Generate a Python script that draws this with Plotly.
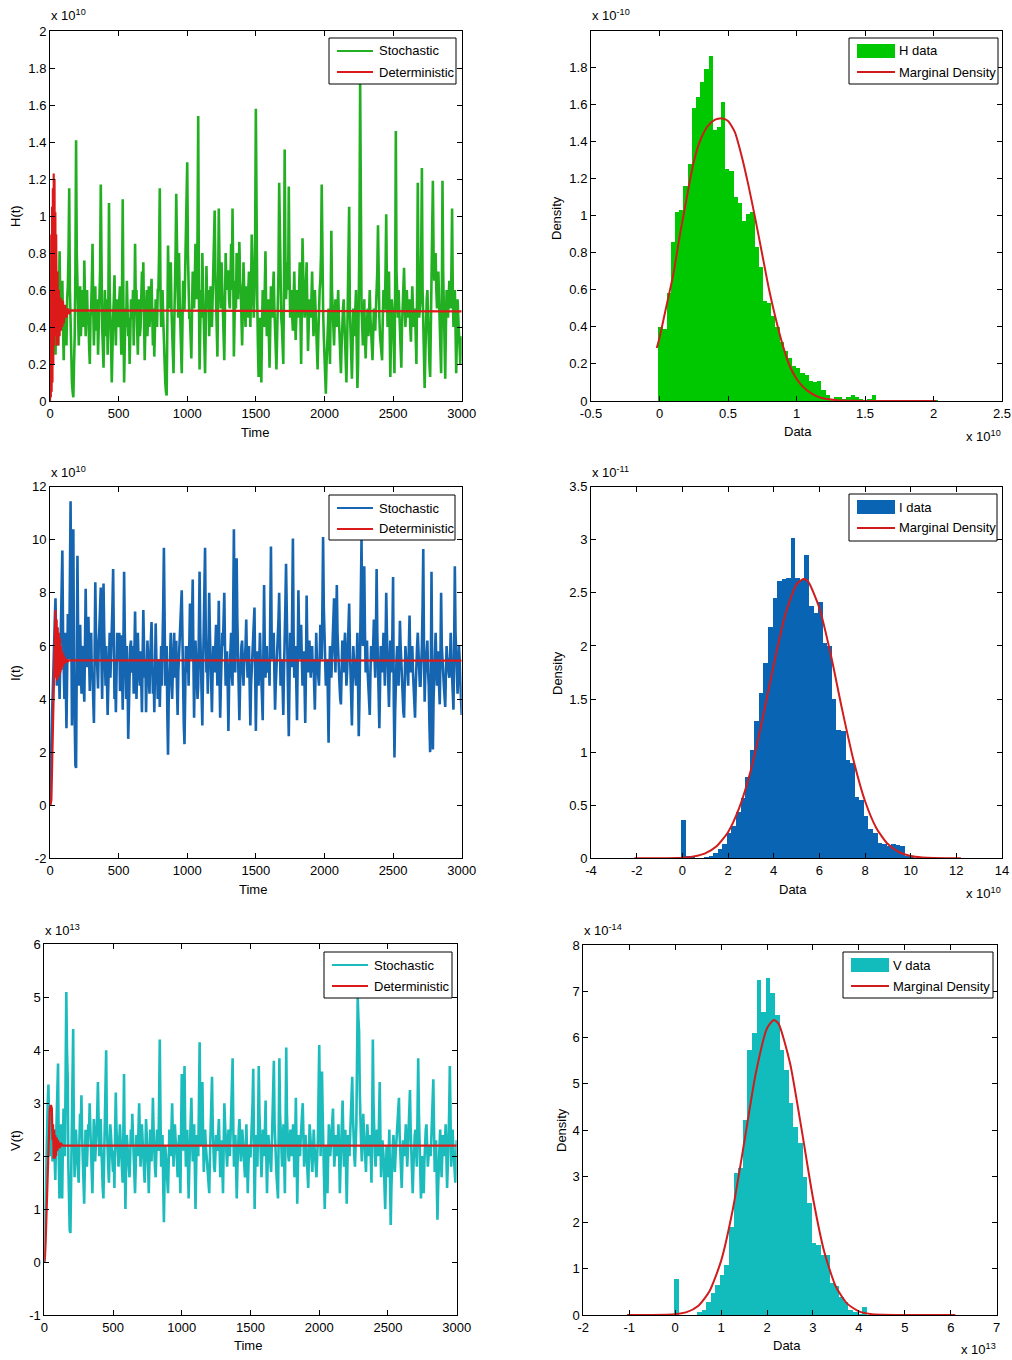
import plotly.graph_objects as go

W, HT = 1012, 1360
FONT = "Liberation Sans, Arial, Helvetica, sans-serif"
FS = 13

# ---------------- data ----------------
time = list(range(0, 3001, 5))

H_stoch = [
    0.02, 0.3, 0.4, 0.8, 1.02, 0.7, 0.55, 0.35, 0.25, 0.45, 0.6, 0.4, 0.3, 0.55, 0.81, 0.5, 0.42, 0.58, 0.65, 0.4,
    0.22, 0.45, 0.5, 0.35, 0.3, 0.55, 0.62, 0.8, 1.15, 0.6, 0.4, 0.25, 0.1, 0.05, 0.02, 0.2, 0.35, 0.7, 1.41, 0.8,
    0.55, 0.4, 0.3, 0.5, 0.62, 0.35, 0.45, 0.6, 0.58, 0.4, 0.76, 0.5, 0.35, 0.48, 0.6, 0.42, 0.48, 0.3, 0.2, 0.45,
    0.5, 0.65, 0.85, 0.5, 0.3, 0.45, 0.62, 0.38, 0.45, 0.55, 0.25, 0.4, 0.55, 0.7, 1.17, 0.6, 0.4, 0.3, 0.18, 0.4,
    0.6, 0.45, 0.35, 0.55, 0.25, 0.5, 1.07, 0.6, 0.5, 0.3, 0.1, 0.35, 0.45, 0.55, 0.68, 0.45, 0.3, 0.5, 0.55, 0.42,
    0.4, 0.55, 0.62, 0.4, 0.25, 0.6, 1.09, 0.5, 0.1, 0.3, 0.5, 0.4, 0.65, 0.5, 0.35, 0.45, 0.2, 0.35, 0.55, 0.45,
    0.45, 0.6, 0.3, 0.5, 0.85, 0.55, 0.6, 0.4, 0.25, 0.45, 0.55, 0.35, 0.4, 0.55, 0.7, 0.5, 0.75, 0.45, 0.22, 0.4,
    0.5, 0.6, 0.35, 0.45, 0.62, 0.4, 0.45, 0.55, 0.66, 0.45, 0.3, 0.5, 0.24, 0.4, 0.55, 0.45, 0.4, 0.6, 0.6, 0.8,
    1.15, 0.6, 0.4, 0.5, 0.6, 0.45, 0.3, 0.2, 0.1, 0.05, 0.03, 0.4, 0.84, 0.6, 0.5, 0.65, 0.75, 0.5, 0.35, 0.25,
    0.15, 0.4, 0.55, 0.8, 1.12, 0.7, 0.6, 0.45, 0.8, 0.55, 0.4, 0.3, 0.15, 0.4, 0.65, 0.5, 0.5, 0.7, 0.85, 1.0,
    1.29, 0.8, 0.6, 0.45, 0.45, 0.3, 0.23, 0.5, 0.7, 0.55, 0.5, 0.65, 0.85, 0.6, 0.55, 0.9, 1.54, 0.6, 0.17, 0.4,
    0.6, 0.45, 0.8, 0.6, 0.45, 0.3, 0.15, 0.4, 0.73, 0.55, 0.5, 0.6, 0.35, 0.5, 0.62, 0.45, 0.4, 0.55, 0.7, 0.8,
    1.03, 0.7, 0.55, 0.4, 0.24, 0.6, 1.04, 0.75, 0.6, 0.5, 0.75, 0.6, 0.5, 0.35, 0.22, 0.5, 0.8, 0.65, 0.6, 0.7,
    0.7, 0.55, 0.5, 0.65, 0.85, 0.6, 1.04, 0.7, 0.24, 0.45, 0.65, 0.5, 0.8, 0.6, 0.55, 0.7, 0.86, 0.65, 0.6, 0.45,
    0.3, 0.5, 0.75, 0.6, 0.5, 0.4, 0.62, 0.55, 0.45, 0.6, 0.7, 0.55, 0.4, 0.6, 0.9, 0.7, 0.55, 0.45, 0.6, 0.9,
    1.58, 0.8, 0.55, 0.3, 0.13, 0.35, 0.45, 0.25, 0.1, 0.4, 0.6, 0.45, 0.4, 0.6, 0.81, 0.5, 0.35, 0.45, 0.55, 0.35,
    0.18, 0.4, 0.62, 0.5, 0.45, 0.6, 0.7, 0.5, 0.35, 0.25, 0.17, 0.35, 0.5, 0.7, 1.18, 0.8, 0.6, 0.45, 0.4, 0.3,
    0.2, 0.6, 1.36, 0.8, 0.55, 0.65, 0.75, 0.6, 1.16, 0.7, 0.45, 0.55, 0.6, 0.45, 0.38, 0.55, 0.7, 0.5, 0.33, 0.45,
    0.6, 0.5, 0.45, 0.6, 0.75, 0.45, 0.2, 0.5, 0.88, 0.7, 0.6, 0.45, 0.5, 0.65, 0.75, 0.5, 0.27, 0.4, 0.55, 0.5,
    0.45, 0.55, 0.7, 0.5, 0.35, 0.45, 0.6, 0.5, 0.4, 0.3, 0.17, 0.35, 0.55, 0.6, 0.65, 0.8, 1.17, 0.7, 0.5, 0.35,
    0.25, 0.1, 0.04, 0.2, 0.35, 0.45, 0.5, 0.35, 0.2, 0.5, 0.92, 0.6, 0.45, 0.35, 0.3, 0.45, 0.55, 0.5, 0.4, 0.5,
    0.6, 0.45, 0.3, 0.2, 0.15, 0.3, 0.45, 0.5, 0.55, 0.4, 0.25, 0.15, 0.1, 0.3, 0.5, 0.7, 1.05, 0.5, 0.3, 0.2,
    0.12, 0.3, 0.5, 0.4, 0.35, 0.5, 0.6, 0.3, 0.07, 0.2, 0.45, 0.9, 1.72, 0.8, 0.5, 0.4, 0.3, 0.4, 0.55, 0.35,
    0.23, 0.35, 0.45, 0.5, 0.35, 0.45, 0.6, 0.45, 0.4, 0.3, 0.22, 0.4, 0.5, 0.45, 0.38, 0.5, 0.6, 0.7, 0.95, 0.6,
    0.45, 0.35, 0.3, 0.25, 0.22, 0.45, 0.6, 0.5, 0.5, 0.7, 1.01, 0.6, 0.4, 0.55, 0.7, 0.4, 0.13, 0.35, 0.55, 0.5,
    0.45, 0.3, 0.15, 0.6, 1.46, 0.7, 0.5, 0.45, 0.6, 0.5, 0.35, 0.25, 0.18, 0.4, 0.55, 0.6, 0.72, 0.55, 0.4, 0.5,
    0.6, 0.5, 0.45, 0.5, 0.55, 0.4, 0.32, 0.5, 0.62, 0.5, 0.4, 0.45, 0.5, 0.35, 0.2, 0.6, 1.18, 0.7, 0.45, 0.5,
    0.55, 0.8, 1.26, 0.6, 0.35, 0.15, 0.07, 0.25, 0.45, 0.55, 0.6, 0.4, 0.3, 0.2, 0.13, 0.45, 0.75, 0.9, 1.19, 0.8,
    0.65, 0.75, 0.8, 0.6, 0.5, 0.6, 0.7, 0.55, 0.45, 0.3, 0.15, 0.5, 1.19, 0.7, 0.55, 0.3, 0.12, 0.4, 0.6, 0.5,
    0.45, 0.55, 0.65, 0.55, 0.5, 0.7, 1.04, 0.6, 0.4, 0.5, 0.6, 0.4, 0.15, 0.35, 0.55, 0.45, 0.35, 0.3, 0.2, 0.3,
    0.35,
]

I_stoch = [
    0.0, 1.5, 2.5, 3.5, 4.2, 5.5, 6.0, 7.0, 7.8, 6.0, 4.5, 5.5, 6.3, 5.0, 4.0, 5.5, 6.8, 8.0, 9.6, 6.5,
    5.0, 4.0, 6.5, 4.5, 2.9, 5.0, 7.2, 6.0, 5.5, 8.5, 11.45, 7.0, 3.0, 6.0, 10.4, 5.0, 1.7, 1.5, 1.4, 5.0,
    9.4, 6.5, 4.5, 5.5, 6.8, 5.0, 4.2, 6.0, 5.8, 4.5, 3.9, 6.0, 8.15, 6.0, 5.2, 6.5, 7.1, 5.5, 4.3, 5.5,
    6.5, 4.8, 5.0, 4.0, 3.1, 5.5, 8.4, 6.5, 5.5, 4.5, 4.4, 6.0, 6.8, 7.5, 8.2, 5.5, 4.0, 6.0, 8.35, 6.5,
    5.2, 4.5, 6.0, 5.0, 3.4, 4.5, 5.6, 6.5, 4.8, 5.5, 6.2, 7.5, 8.9, 6.0, 4.0, 5.0, 3.5, 5.0, 6.5, 5.5,
    5.5, 6.5, 4.3, 5.0, 6.4, 5.0, 3.6, 6.0, 8.8, 6.5, 5.0, 4.0, 6.0, 5.0, 2.5, 4.0, 4.8, 6.0, 6.2, 5.0,
    5.2, 6.0, 4.2, 5.5, 7.3, 5.5, 4.0, 5.0, 6.5, 5.5, 5.0, 4.5, 5.8, 4.5, 3.5, 5.5, 7.35, 6.0, 4.8, 5.5,
    3.5, 5.0, 6.2, 5.5, 5.0, 4.2, 5.5, 6.5, 6.9, 5.5, 4.2, 5.0, 3.5, 5.0, 6.85, 5.5, 5.3, 4.0, 4.5, 5.5,
    3.7, 5.0, 6.0, 4.5, 5.5, 7.5, 9.7, 6.5, 4.5, 5.5, 6.0, 3.5, 1.9, 4.0, 5.2, 6.0, 6.5, 5.0, 4.0, 5.0,
    5.6, 6.5, 4.8, 5.5, 6.2, 4.5, 3.4, 5.0, 5.5, 6.0, 6.6, 7.5, 8.1, 5.5, 4.5, 3.0, 2.3, 4.5, 6.0, 5.5,
    5.0, 6.0, 4.5, 6.0, 7.6, 6.5, 5.5, 7.0, 8.5, 5.5, 3.3, 5.0, 6.2, 5.5, 5.0, 4.0, 4.5, 6.5, 8.8, 6.5,
    5.5, 4.0, 3.0, 5.0, 6.5, 8.0, 9.7, 6.5, 5.0, 5.5, 4.2, 6.0, 8.0, 6.5, 5.5, 4.5, 3.5, 5.0, 6.0, 5.5,
    5.0, 6.0, 6.8, 5.5, 4.5, 6.0, 7.7, 5.0, 3.3, 4.5, 5.5, 6.5, 6.0, 7.0, 8.0, 6.0, 4.5, 5.0, 5.8, 4.5,
    2.8, 4.5, 5.5, 6.0, 6.5, 5.0, 4.5, 7.5, 10.4, 7.0, 5.0, 7.5, 9.3, 7.0, 6.0, 4.5, 3.2, 4.5, 5.5, 6.0,
    6.2, 5.0, 4.5, 5.5, 5.5, 6.0, 7.0, 5.5, 4.8, 5.5, 6.0, 4.5, 3.0, 4.5, 5.2, 6.0, 6.3, 7.0, 7.45, 5.0,
    2.8, 4.5, 5.8, 5.0, 4.5, 5.5, 6.5, 5.5, 5.0, 4.0, 3.2, 5.5, 8.3, 6.0, 4.8, 5.5, 6.0, 5.0, 5.2, 5.5,
    4.5, 7.0, 9.75, 6.5, 5.5, 6.0, 6.5, 5.0, 3.6, 4.5, 5.0, 5.5, 6.2, 7.0, 8.0, 6.0, 4.5, 5.0, 5.5, 4.5,
    3.4, 5.0, 6.0, 7.5, 9.1, 6.5, 5.0, 4.0, 2.6, 4.5, 6.5, 5.5, 5.2, 7.5, 10.05, 6.5, 4.8, 5.5, 6.0, 4.5,
    3.2, 5.5, 8.1, 6.5, 5.5, 6.0, 6.8, 5.5, 4.5, 5.0, 5.8, 4.5, 3.1, 5.0, 7.9, 6.0, 5.0, 5.5, 6.2, 5.5,
    4.8, 5.5, 6.0, 5.0, 5.5, 4.5, 3.6, 5.0, 6.5, 5.5, 5.0, 4.5, 4.5, 5.5, 6.8, 6.0, 5.5, 7.5, 10.1, 7.5,
    6.0, 5.0, 4.5, 5.0, 5.5, 4.0, 2.35, 4.5, 6.0, 5.5, 4.8, 5.5, 6.5, 7.0, 7.8, 6.0, 5.0, 6.5, 8.3, 6.5,
    5.5, 5.0, 4.5, 4.0, 3.8, 5.0, 6.2, 5.5, 5.0, 6.0, 6.5, 5.5, 4.5, 5.0, 5.8, 6.5, 7.6, 6.0, 5.0, 4.0,
    3.0, 4.5, 6.0, 5.5, 5.2, 5.0, 4.5, 5.5, 6.5, 4.5, 2.6, 4.0, 5.5, 7.5, 10.0, 7.0, 6.0, 7.5, 9.0, 6.5,
    5.0, 5.5, 6.2, 5.0, 4.5, 4.0, 3.4, 5.0, 6.0, 5.5, 5.5, 6.0, 7.0, 5.5, 4.8, 6.5, 8.9, 6.5, 5.2, 4.0,
    2.9, 4.5, 6.0, 5.5, 5.0, 5.5, 6.5, 5.5, 4.5, 6.0, 8.0, 6.5, 5.5, 4.5, 3.7, 5.0, 6.2, 5.5, 5.0, 6.5,
    8.6, 4.0, 1.8, 3.5, 5.0, 5.5, 6.0, 5.0, 4.5, 5.5, 6.95, 6.0, 5.2, 4.5, 4.0, 3.5, 3.3, 5.0, 6.0, 5.5,
    5.5, 5.0, 4.5, 6.0, 7.15, 5.5, 5.0, 5.5, 6.0, 5.0, 4.2, 4.0, 3.3, 4.5, 5.8, 6.0, 6.5, 5.5, 5.0, 4.5,
    4.5, 5.0, 6.0, 7.5, 9.65, 6.0, 3.9, 5.0, 5.5, 6.0, 6.2, 5.0, 4.5, 3.0, 2.0, 5.0, 8.8, 5.0, 2.1, 4.0,
    5.0, 6.0, 6.5, 5.5, 4.5, 5.0, 5.8, 4.5, 3.8, 5.5, 8.0, 6.0, 5.2, 5.0, 4.5, 4.0, 3.7, 5.0, 6.0, 5.5,
    5.5, 5.0, 4.8, 5.5, 6.5, 5.5, 5.0, 4.5, 3.6, 6.0, 9.0, 6.5, 5.5, 4.5, 4.2, 5.0, 6.0, 5.5, 5.0, 4.0,
    3.4,
]

V_stoch = [
    0.0, 0.8, 1.6, 2.0, 2.4, 3.0, 3.35, 2.5, 2.0, 2.4, 2.8, 2.2, 1.9, 2.2, 2.5, 2.0, 1.55, 2.2, 2.7, 3.2,
    3.75, 2.0, 1.2, 2.0, 2.6, 1.8, 1.2, 2.2, 2.9, 2.4, 2.0, 3.5, 5.1, 4.0, 3.5, 1.8, 0.8, 0.6, 0.55, 1.5,
    2.0, 3.0, 4.4, 2.5, 1.6, 2.0, 2.5, 2.2, 2.0, 1.8, 1.5, 2.2, 2.8, 2.5, 3.15, 2.4, 1.8, 1.5, 1.1, 1.8,
    2.5, 2.2, 1.8, 2.2, 2.6, 2.4, 3.0, 2.5, 2.0, 1.6, 1.3, 2.0, 2.7, 2.3, 1.9, 2.2, 2.4, 2.8, 3.4, 2.5,
    2.0, 2.4, 2.7, 2.2, 1.6, 1.4, 1.2, 1.8, 2.3, 3.0, 4.0, 2.6, 2.0, 1.8, 1.5, 2.0, 2.6, 2.4, 2.2, 1.9,
    1.7, 2.1, 1.4, 2.4, 3.2, 2.5, 2.2, 1.9, 1.8, 2.2, 2.6, 2.3, 2.0, 1.8, 1.5, 2.4, 3.55, 2.0, 1.0, 1.8,
    2.4, 2.2, 2.0, 1.8, 1.6, 2.0, 2.5, 2.2, 2.8, 2.4, 1.9, 1.6, 1.3, 1.8, 2.4, 2.2, 2.0, 2.5, 3.0, 2.4,
    1.8, 2.2, 2.6, 2.3, 2.1, 1.8, 1.5, 2.0, 2.7, 2.4, 2.2, 1.8, 1.3, 1.9, 2.5, 2.2, 1.9, 2.4, 3.1, 2.5,
    2.0, 1.8, 1.6, 2.0, 2.5, 2.3, 2.1, 3.0, 4.2, 2.8, 1.8, 2.0, 2.4, 1.5, 0.75, 1.6, 2.2, 2.0, 1.7, 1.5,
    1.3, 1.9, 2.5, 2.2, 2.0, 2.5, 3.0, 2.4, 1.8, 2.2, 2.6, 2.3, 2.2, 1.9, 1.6, 2.0, 2.4, 1.8, 1.3, 2.4,
    3.55, 2.6, 2.1, 2.9, 3.7, 2.5, 1.8, 2.2, 2.5, 1.8, 1.2, 1.8, 2.2, 2.6, 3.1, 2.4, 1.9, 2.2, 2.6, 1.8,
    1.0, 1.8, 2.4, 2.2, 2.0, 3.0, 4.15, 2.8, 2.2, 2.8, 3.4, 2.4, 1.7, 2.1, 2.5, 2.2, 2.0, 1.8, 1.6, 1.4,
    1.3, 2.0, 2.6, 3.0, 3.5, 2.6, 2.0, 1.8, 1.7, 2.0, 2.4, 2.2, 2.1, 2.4, 2.7, 2.2, 1.6, 2.0, 2.3, 1.8,
    1.3, 2.2, 3.0, 2.6, 2.2, 2.0, 1.8, 2.2, 2.5, 2.2, 2.0, 2.4, 2.8, 3.2, 3.85, 2.5, 1.8, 2.1, 2.4, 1.8,
    1.2, 1.8, 2.3, 2.5, 2.7, 2.2, 1.9, 2.2, 2.5, 2.3, 2.1, 1.8, 1.6, 2.1, 2.6, 2.0, 1.3, 1.8, 2.2, 2.0,
    2.0, 2.3, 2.6, 3.0, 3.65, 2.0, 1.0, 1.8, 2.4, 2.1, 1.8, 2.5, 3.7, 2.8, 2.2, 1.9, 1.6, 2.0, 2.5, 2.2,
    2.0, 2.5, 3.05, 2.0, 1.3, 1.9, 2.4, 2.2, 2.0, 1.9, 1.7, 2.2, 2.6, 3.0, 3.8, 2.6, 2.1, 1.8, 1.6, 1.4,
    1.2, 2.4, 3.85, 2.8, 2.3, 2.0, 1.8, 2.2, 2.6, 1.9, 1.3, 2.5, 4.05, 2.8, 2.2, 2.0, 1.9, 2.2, 2.5, 2.2,
    2.0, 2.2, 2.6, 2.1, 1.6, 2.3, 3.1, 2.2, 1.1, 1.8, 2.4, 2.2, 2.0, 2.3, 2.7, 2.8, 3.0, 2.4, 1.8, 2.1,
    2.4, 2.2, 2.0, 1.7, 1.4, 2.0, 2.6, 2.4, 2.2, 2.0, 1.7, 2.1, 2.5, 2.2, 2.0, 1.8, 1.6, 2.0, 2.3, 3.2,
    4.1, 3.0, 2.0, 2.8, 3.6, 2.8, 2.4, 1.6, 1.0, 1.6, 2.2, 1.8, 1.3, 2.0, 2.6, 2.3, 2.0, 2.2, 2.4, 2.6,
    2.9, 2.2, 1.8, 2.1, 2.4, 2.2, 2.0, 2.3, 2.6, 2.0, 1.3, 1.8, 2.2, 2.6, 3.05, 2.4, 1.8, 2.2, 2.5, 1.8,
    1.1, 1.8, 2.4, 2.2, 2.0, 2.4, 2.7, 3.1, 3.5, 2.8, 2.2, 2.0, 1.8, 2.2, 2.6, 3.8, 5.0, 4.6, 4.35, 3.2,
    2.5, 2.2, 1.9, 2.4, 2.8, 2.5, 2.2, 1.9, 1.7, 2.2, 2.6, 2.3, 2.0, 2.2, 2.4, 2.0, 1.5, 2.6, 4.2, 3.0,
    2.2, 2.0, 1.8, 2.2, 2.5, 2.2, 2.0, 2.7, 3.4, 2.4, 1.6, 2.0, 2.3, 2.1, 1.9, 1.4, 1.0, 1.6, 2.2, 1.9,
    1.6, 2.0, 2.5, 1.5, 0.7, 1.4, 2.0, 2.2, 2.4, 2.0, 1.7, 2.0, 2.2, 2.4, 2.6, 2.8, 3.1, 2.4, 1.9, 1.6,
    1.4, 1.9, 2.3, 2.1, 2.0, 2.3, 2.6, 2.2, 1.8, 2.1, 2.4, 2.8, 3.25, 2.5, 2.0, 1.6, 1.3, 1.8, 2.2, 2.4,
    2.5, 2.1, 1.8, 2.8, 3.85, 2.8, 2.2, 1.6, 1.2, 1.6, 2.0, 1.6, 1.3, 1.9, 2.4, 2.5, 2.6, 2.2, 1.8, 2.0,
    2.2, 2.1, 2.0, 2.3, 2.6, 3.0, 3.45, 2.5, 1.7, 2.0, 2.3, 1.5, 0.8, 1.4, 2.0, 2.2, 2.5, 2.0, 1.6, 2.0,
    2.4, 2.2, 2.0, 2.3, 2.6, 2.0, 1.4, 1.8, 2.2, 2.8, 3.7, 2.6, 1.8, 2.2, 2.5, 2.2, 2.0, 1.7, 1.5, 1.9,
    2.3,
]

H_det_t = [0, 3, 6, 9, 12, 15, 18, 21, 24, 27, 30, 33, 36, 39, 42, 45, 50, 55, 60, 65,
           70, 75, 80, 85, 90, 95, 100, 110, 120, 130, 140, 150, 3000]
H_det = [0.0, 0.5, 0.02, 0.9, 0.05, 1.05, 0.1, 1.15, 0.2, 1.23, 0.3, 1.2, 0.35, 1.02, 0.4, 0.9,
         0.3, 0.7, 0.3, 0.6, 0.35, 0.56, 0.38, 0.55, 0.4, 0.54, 0.42, 0.52, 0.45, 0.5, 0.47,
         0.49, 0.485]

I_det_t = [0, 5, 10, 15, 20, 25, 30, 35, 40, 44, 48, 52, 56, 60, 64, 68, 72, 76, 80, 84,
           88, 92, 96, 100, 105, 110, 120, 130, 140, 3000]
I_det = [0.0, 0.05, 0.2, 1.5, 3.0, 4.2, 4.4, 6.0, 7.35, 4.8, 7.0, 4.7, 6.7, 4.8, 6.5, 4.9,
         6.3, 5.0, 6.0, 5.1, 5.8, 5.2, 5.7, 5.3, 5.6, 5.35, 5.5, 5.42, 5.46, 5.45]

V_det_t = [0, 5, 10, 15, 20, 25, 30, 35, 40, 45, 50, 55, 60, 64, 68, 72, 76, 80, 85, 90,
           95, 100, 110, 120, 130, 3000]
V_det = [0.0, 0.1, 0.4, 0.9, 1.3, 1.7, 2.2, 2.6, 2.9, 2.95, 2.95, 2.9, 2.3, 2.6, 1.95, 2.5,
         1.95, 2.4, 2.0, 2.35, 2.1, 2.3, 2.15, 2.25, 2.2, 2.2]

# histograms (density values, bins of fixed width)
H_bin_start, H_bin_width = -0.008, 0.0305
H_density = [
    0.40, 0.39, 0.58, 0.86, 1.02, 1.03, 1.16, 1.28, 1.58, 1.64,
    1.72, 1.79, 1.86, 1.46, 1.48, 1.61, 1.25, 1.24, 1.10, 1.07,
    0.97, 1.01, 1.02, 0.83, 0.72, 0.54, 0.53, 0.46, 0.40, 0.32,
    0.27, 0.23, 0.19, 0.18, 0.15, 0.14, 0.11, 0.10, 0.11, 0.06,
    0.03, 0.01, 0.02, 0.02, 0.01, 0.02, 0.03, 0.02, 0.01, 0.0,
    0.01, 0.03, 0.0, 0.0, 0.0, 0.0, 0.0, 0.0, 0.0, 0.0,
    0.0, 0.0, 0.0, 0.0, 0.0, 0.0, 0.005,
]
H_fit_x = [-0.02, 0.0, 0.05, 0.1, 0.15, 0.2, 0.25, 0.3, 0.35, 0.4, 0.454, 0.5, 0.55, 0.6,
           0.65, 0.7, 0.75, 0.8, 0.85, 0.9, 0.95, 1.0, 1.05, 1.1, 1.15, 1.2, 1.3, 1.4,
           1.6, 2.02]
H_fit_y = [0.286, 0.34, 0.51, 0.68, 0.9, 1.1, 1.29, 1.41, 1.48, 1.515, 1.525, 1.51, 1.45,
           1.32, 1.16, 0.98, 0.79, 0.6, 0.44, 0.30, 0.19, 0.12, 0.075, 0.045, 0.025, 0.013,
           0.004, 0.001, 0.0, 0.0]

I_bin_start, I_bin_width = -0.05, 0.2
I_density = [
    0.36, 0.02, 0.01, 0.005, 0.005, 0.01, 0.02, 0.05, 0.09, 0.14,
    0.24, 0.31, 0.44, 0.57, 0.77, 1.02, 1.30, 1.56, 1.84, 2.18,
    2.45, 2.61, 2.63, 2.64, 3.02, 2.64, 2.62, 2.86, 2.38, 2.31,
    2.42, 2.03, 2.0, 1.50, 1.21, 1.20, 0.93, 0.90, 0.58, 0.55,
    0.40, 0.28, 0.24, 0.15, 0.14, 0.12, 0.14, 0.13, 0.12, 0.02,
    0.01,
]
I_fit_x = [-2.1, -1.0, 0.0, 0.5, 1.0, 1.5, 2.0, 2.5, 3.0, 3.5, 4.0, 4.5, 5.0, 5.3, 5.5,
           6.0, 6.5, 7.0, 7.5, 8.0, 8.5, 9.0, 9.5, 10.0, 10.5, 11.0, 12.2]
I_fit_y = [0.0, 0.0, 0.006, 0.018, 0.047, 0.114, 0.246, 0.48, 0.83, 1.30, 1.82, 2.29, 2.58,
           2.63, 2.61, 2.36, 1.92, 1.40, 0.92, 0.54, 0.284, 0.134, 0.057, 0.022, 0.008,
           0.002, 0.0]

V_bin_start, V_bin_width = -0.02, 0.1
V_density = [
    0.77, 0.0, 0.0, 0.0, 0.0, 0.07, 0.10, 0.29, 0.47, 0.65,
    0.86, 1.08, 1.91, 3.06, 3.18, 4.22, 5.73, 6.10, 7.24, 6.56,
    7.28, 6.96, 6.49, 5.73, 5.30, 4.58, 4.07, 3.71, 2.99, 2.42,
    1.56, 1.51, 1.30, 1.30, 0.69, 0.63, 0.40, 0.29, 0.10, 0.06,
    0.02, 0.18, 0.0,
]
V_fit_x = [-1.05, -0.5, 0.0, 0.25, 0.5, 0.75, 1.0, 1.25, 1.5, 1.75, 2.0, 2.15, 2.25, 2.5,
           2.75, 3.0, 3.25, 3.5, 3.75, 4.0, 4.25, 4.5, 5.0, 6.1]
V_fit_y = [0.0, 0.0, 0.017, 0.062, 0.195, 0.52, 1.17, 2.26, 3.71, 5.2, 6.2, 6.38, 6.3,
           5.45, 4.03, 2.53, 1.35, 0.61, 0.24, 0.079, 0.022, 0.005, 0.0, 0.0]

# ---------------- style ----------------
GREEN_LINE, GREEN_BAR = "#22b022", "#00c800"
BLUE_LINE, BLUE_BAR = "#1565b0", "#0a64b4"
CYAN_LINE, CYAN_BAR = "#1cbcbc", "#12bcbc"
RED = "#dc1a1a"
RED_FIT = "#d01c1c"

# panel boxes in pixels: left, right, top, bottom
BOX = {
    1: (50, 461.7, 31, 401),
    2: (591, 1002, 31, 401),
    3: (50, 461.7, 486.7, 858.3),
    4: (591, 1002, 486.7, 858.3),
    5: (44.3, 456.7, 944.3, 1315),
    6: (583.3, 996.7, 945, 1315),
}


def fx(x):
    return x / W


def fy(y):
    return 1 - y / HT


def labels(vals):
    return [("%g" % v) for v in vals]


fig = go.Figure()

ts = [
    (1, H_stoch, H_det_t, H_det, GREEN_LINE),
    (3, I_stoch, I_det_t, I_det, BLUE_LINE),
    (5, V_stoch, V_det_t, V_det, CYAN_LINE),
]
for p, ys, dt, dv, col in ts:
    fig.add_trace(go.Scatter(x=time, y=ys, mode="lines", line=dict(color=col, width=2.6),
                             xaxis="x%d" % p, yaxis="y%d" % p, showlegend=False,
                             name="Stochastic"))
    fig.add_trace(go.Scatter(x=dt, y=dv, mode="lines", line=dict(color=RED, width=2.2),
                             xaxis="x%d" % p, yaxis="y%d" % p, showlegend=False,
                             name="Deterministic"))

hs = [
    (2, H_bin_start, H_bin_width, H_density, H_fit_x, H_fit_y, GREEN_BAR),
    (4, I_bin_start, I_bin_width, I_density, I_fit_x, I_fit_y, BLUE_BAR),
    (6, V_bin_start, V_bin_width, V_density, V_fit_x, V_fit_y, CYAN_BAR),
]
for p, b0, bw, dens, fxs, fys, col in hs:
    centers = [b0 + bw * (k + 0.5) for k in range(len(dens))]
    fig.add_trace(go.Bar(x=centers, y=dens, width=bw, marker=dict(color=col, line=dict(width=0)),
                         xaxis="x%d" % p, yaxis="y%d" % p, showlegend=False, name="data"))
    fig.add_trace(go.Scatter(x=fxs, y=fys, mode="lines",
                             line=dict(color=RED_FIT, width=2, shape="spline", smoothing=0.6),
                             xaxis="x%d" % p, yaxis="y%d" % p, showlegend=False,
                             name="Marginal Density"))

tickfont = dict(family=FONT, size=FS, color="black")


def ax(p, which, rng, vals):
    l, r, t, b = BOX[p]
    d = dict(range=rng, tickvals=vals, ticktext=labels(vals), showline=True, mirror="ticks",
             linecolor="black", linewidth=1, ticks="inside", ticklen=5, tickcolor="black",
             tickwidth=1, showgrid=False, zeroline=False, tickfont=tickfont, fixedrange=True,
             automargin=False)
    if which == "x":
        d["domain"] = [fx(l), fx(r)]
        d["anchor"] = "y" if p == 1 else "y%d" % p
    else:
        d["domain"] = [fy(b), fy(t)]
        d["anchor"] = "x" if p == 1 else "x%d" % p
    return d


time_ticks = [0, 500, 1000, 1500, 2000, 2500, 3000]
layout_axes = {
    "xaxis": ax(1, "x", [0, 3000], time_ticks),
    "yaxis": ax(1, "y", [0, 2], [0, 0.2, 0.4, 0.6, 0.8, 1, 1.2, 1.4, 1.6, 1.8, 2]),
    "xaxis2": ax(2, "x", [-0.5, 2.5], [-0.5, 0, 0.5, 1, 1.5, 2, 2.5]),
    "yaxis2": ax(2, "y", [0, 1.995], [0, 0.2, 0.4, 0.6, 0.8, 1, 1.2, 1.4, 1.6, 1.8]),
    "xaxis3": ax(3, "x", [0, 3000], time_ticks),
    "yaxis3": ax(3, "y", [-2, 12], [-2, 0, 2, 4, 6, 8, 10, 12]),
    "xaxis4": ax(4, "x", [-4, 14], [-4, -2, 0, 2, 4, 6, 8, 10, 12, 14]),
    "yaxis4": ax(4, "y", [0, 3.5], [0, 0.5, 1, 1.5, 2, 2.5, 3, 3.5]),
    "xaxis5": ax(5, "x", [0, 3000], time_ticks),
    "yaxis5": ax(5, "y", [-1, 6], [-1, 0, 1, 2, 3, 4, 5, 6]),
    "xaxis6": ax(6, "x", [-2, 7], [-2, -1, 0, 1, 2, 3, 4, 5, 6, 7]),
    "yaxis6": ax(6, "y", [0, 8], [0, 1, 2, 3, 4, 5, 6, 7, 8]),
}

annotations = []
shapes = []


def text(x, y, s, size=FS, xanchor="center", yanchor="middle", angle=0):
    annotations.append(dict(x=fx(x), y=fy(y), xref="paper", yref="paper", text=s,
                            showarrow=False, xanchor=xanchor, yanchor=yanchor, textangle=angle,
                            font=dict(family=FONT, size=size, color="black")))


# axis titles
text(255, 432, "Time")
text(253, 889, "Time")
text(248, 1345, "Time")
text(15, 216, "H(t)", angle=-90)
text(15, 673, "I(t)", angle=-90)
text(15, 1141, "V(t)", angle=-90)
text(798, 431, "Data")
text(793, 889, "Data")
text(787, 1345, "Data")
text(557, 218, "Density", angle=-90)
text(557, 673, "Density", angle=-90)
text(561, 1130, "Density", angle=-90)

# exponent labels
text(49, 25, "x 10<sup>10</sup>", xanchor="left", yanchor="bottom")
text(590, 25, "x 10<sup>-10</sup>", xanchor="left", yanchor="bottom")
text(49, 482, "x 10<sup>10</sup>", xanchor="left", yanchor="bottom")
text(590, 482, "x 10<sup>-11</sup>", xanchor="left", yanchor="bottom")
text(43, 940, "x 10<sup>13</sup>", xanchor="left", yanchor="bottom")
text(582, 940, "x 10<sup>-14</sup>", xanchor="left", yanchor="bottom")
text(1003, 446, "x 10<sup>10</sup>", xanchor="right", yanchor="bottom")
text(1003, 903, "x 10<sup>10</sup>", xanchor="right", yanchor="bottom")
text(998, 1359, "x 10<sup>13</sup>", xanchor="right", yanchor="bottom")


def rect(x0, y0, x1, y1, fill=None, line="black", lw=1):
    shapes.append(dict(type="rect", xref="paper", yref="paper", x0=fx(x0), x1=fx(x1),
                       y0=fy(y1), y1=fy(y0), fillcolor=fill if fill else "white",
                       line=dict(color=line, width=lw), layer="above"))


def hline(x0, x1, y, color, lw=2):
    shapes.append(dict(type="line", xref="paper", yref="paper", x0=fx(x0), x1=fx(x1),
                       y0=fy(y), y1=fy(y), line=dict(color=color, width=lw), layer="above"))


def legend_ts(l, r, t, b, col):
    rect(l, t, r, b)
    y1, y2 = t + 13, t + 34
    hline(l + 8, l + 44, y1, col)
    hline(l + 8, l + 44, y2, RED)
    text(l + 48, y1, "Stochastic", xanchor="left")
    text(l + 48, y2, "Deterministic", xanchor="left")


def legend_h(l, r, t, b, col, lab):
    rect(l, t, r, b)
    y1, y2 = t + 13, t + 34
    rect(l + 8, y1 - 7, l + 46, y1 + 7, fill=col, line=col, lw=0)
    hline(l + 8, l + 46, y2, RED_FIT)
    text(l + 48, y1, lab, xanchor="left")
    text(l + 48, y2, "Marginal Density", xanchor="left")


legend_ts(329, 456, 38, 84, GREEN_LINE)
legend_ts(329, 455, 495, 540, BLUE_LINE)
legend_ts(324, 452, 952, 998, CYAN_LINE)
legend_h(849, 998, 38, 84, GREEN_BAR, "H data")
legend_h(849, 997, 494, 541, BLUE_BAR, "I data")
legend_h(843, 993, 952, 998, CYAN_BAR, "V data")

fig.update_layout(
    width=W, height=HT, margin=dict(l=0, r=0, t=0, b=0, pad=0, autoexpand=False),
    paper_bgcolor="white", plot_bgcolor="white", showlegend=False,
    bargap=0, annotations=annotations, shapes=shapes,
    font=dict(family=FONT, size=FS, color="black"),
    **layout_axes,
)

fig.write_html("out.html")
